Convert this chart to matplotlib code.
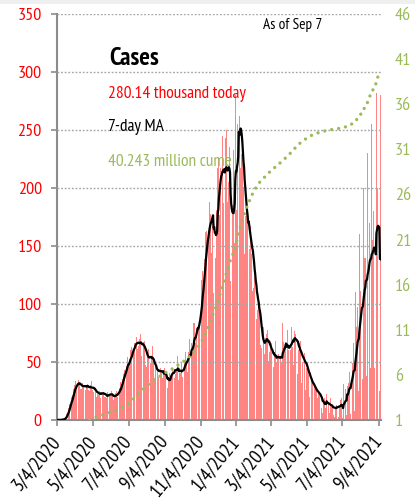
import pandas as pd
import matplotlib
matplotlib.use('Agg')
import matplotlib.pyplot as plt
from matplotlib.patches import Rectangle

plt.rcParams['font.family'] = ['PT Sans Narrow', 'DejaVu Sans']

# daily new cases (thousands), one row per week, Monday first, from 3/2/2020
start_date = '2020-03-02'
daily_cases = [
    0.02, 0.03, 0.03, 0.07, 0.07, 0.1, 0.1,
    0.2, 0.3, 0.4, 0.5, 0.6, 0.7, 0.9,
    1.3, 1.8, 2.7, 4.5, 5.6, 6.9, 9.3,
    10.5, 11.0, 13.5, 17.7, 18.7, 19.5, 19.4,
    21.3, 24.7, 27.0, 29.9, 32.1, 33.3, 25.3,
    30.5, 31.2, 32.4, 34.4, 33.9, 29.9, 27.4,
    26.6, 26.8, 29.9, 31.8, 32.1, 29.6, 26.9,
    28.1, 25.9, 28.9, 29.4, 35.0, 31.0, 26.0,
    23.0, 24.8, 28.6, 30.0, 33.9, 29.2, 25.5,
    23.3, 23.8, 24.5, 29.6, 27.6, 25.4, 20.2,
    18.5, 22.1, 21.2, 27.0, 25.3, 24.5, 18.9,
    22.0, 20.5, 22.8, 27.5, 24.4, 21.7, 19.6,
    19.4, 18.8, 19.3, 22.6, 24.4, 24.3, 20.1,
    22.2, 20.3, 20.6, 21.9, 25.0, 23.2, 17.9,
    17.3, 18.7, 20.9, 23.3, 25.0, 25.2, 19.8,
    20.1, 23.7, 26.0, 27.8, 32.0, 32.4, 26.9,
    31.0, 35.6, 38.8, 40.0, 45.3, 42.8, 39.8,
    41.6, 46.4, 51.6, 54.6, 56.0, 45.3, 48.5,
    49.0, 60.2, 58.1, 63.2, 65.6, 61.1, 59.6,
    58.5, 66.1, 67.6, 75.2, 71.6, 63.6, 60.8,
    61.9, 63.5, 69.6, 72.4, 74.5, 65.5, 55.4,
    56.0, 65.2, 67.3, 67.0, 68.4, 57.9, 47.0,
    45.7, 54.3, 53.9, 59.0, 61.0, 56.6, 46.5,
    49.0, 54.7, 53.1, 52.0, 63.8, 50.5, 40.6,
    36.1, 44.5, 46.6, 44.4, 49.2, 43.1, 36.4,
    36.8, 39.5, 45.3, 45.2, 48.0, 43.1, 35.1,
    36.6, 41.7, 30.9, 44.5, 50.9, 41.3, 30.7,
    24.3, 27.3, 33.8, 36.4, 47.6, 40.7, 34.4,
    36.8, 39.1, 38.4, 44.2, 49.6, 41.7, 36.4,
    51.0, 39.4, 39.2, 43.8, 55.0, 46.3, 34.3,
    36.4, 40.6, 40.8, 44.9, 49.3, 49.0, 37.1,
    38.4, 42.5, 50.8, 56.5, 58.3, 55.3, 47.0,
    41.4, 52.2, 58.6, 64.6, 69.8, 55.7, 48.3,
    66.1, 62.3, 62.6, 74.4, 83.8, 83.7, 60.8,
    66.8, 74.7, 79.2, 90.3, 99.3, 81.2, 74.4,
    84.7, 92.0, 104.0, 121.1, 127.5, 128.8, 105.5,
    119.0, 139.0, 144.0, 161.8, 177.2, 163.0, 135.1,
    159.0, 160.8, 170.1, 187.8, 196.0, 177.3, 144.1,
    173.1, 174.2, 182.6, 109.4, 203.6, 144.7, 139.8,
    161.5, 180.7, 200.8, 217.5, 225.5, 213.6, 176.5,
    196.0, 217.0, 224.8, 226.4, 245.0, 215.0, 187.0,
    196.7, 199.0, 243.0, 235.0, 249.7, 194.9, 187.9,
    205.0, 210.0, 235.0, 210.0, 120.0, 135.0, 160.0,
    185.0, 205.0, 233.0, 236.0, 153.0, 280.0, 210.0,
    181, 235, 255, 277, 300, 262, 213,
    217, 224, 229, 235, 241, 201, 177,
    143, 176, 184, 193, 191, 172, 132,
    150, 147, 154, 167, 166, 143, 111,
    134, 114, 121, 123, 134, 103, 87,
    91, 95, 95, 104, 100, 86, 65,
    55, 62, 69, 70, 80, 73, 57,
    56, 71, 74, 77, 78, 64, 51,
    59, 56, 67, 67, 66, 59, 42,
    46, 56, 57, 62, 68, 50, 36,
    53, 54, 57, 60, 65, 55, 36,
    50, 53, 84, 67, 77, 63, 43,
    67, 60, 65, 78, 70, 60, 35,
    77, 60, 73, 80, 82, 63, 47,
    70, 77, 75, 74, 80, 60, 40,
    67, 60, 63, 66, 68, 52, 32,
    56, 50, 56, 59, 58, 44, 26,
    50, 45, 44, 47, 45, 32, 20,
    37, 34, 36, 37, 35, 25, 15,
    30, 27, 28, 30, 28, 19, 12,
    25, 22, 24, 26, 22, 10, 6,
    6, 21, 18, 19, 17, 10, 6,
    22, 14, 16, 15, 17, 6, 4,
    19, 13, 14, 12, 10, 4, 3,
    19, 11, 13, 13, 15, 4, 3,
    22, 12, 14, 17, 19, 3, 2,
    5, 31, 22, 23, 27, 6, 4,
    41, 29, 32, 37, 41, 8, 5,
    65, 45, 49, 56, 66, 12, 8,
    110, 73, 80, 90, 97, 25, 15,
    160, 105, 111, 125, 130, 35, 20,
    200, 135, 140, 140, 170, 38, 25,
    230, 150, 160, 170, 190, 45, 30,
    255, 155, 170, 180, 205, 45, 30,
    215, 282, 190, 200, 210, 40, 25,
    25, 280.14,
]

tick_dates = ['2020-03-04', '2020-05-04', '2020-07-04', '2020-09-04', '2020-11-04',
              '2021-01-04', '2021-03-04', '2021-05-04', '2021-07-04', '2021-09-04']
tick_labels = ['3/4/2020', '5/4/2020', '7/4/2020', '9/4/2020', '11/4/2020',
               '1/4/2021', '3/4/2021', '5/4/2021', '7/4/2021', '9/4/2021']
left_ticks = [0, 50, 100, 150, 200, 250, 300, 350]
right_ticks = [1, 6, 11, 16, 21, 26, 31, 36, 41, 46]

dates = pd.date_range(start_date, periods=len(daily_cases), freq='D')
cases = pd.Series(daily_cases, index=dates)
ma7 = cases.rolling(7, min_periods=1).mean()
cume = cases.cumsum() / 1000.0  # millions

red = '#ff0000'
green = '#9bbb59'
axis_gray = '#8c8c8c'

fig = plt.figure(figsize=(4.15, 5.04), dpi=100)
fig.add_artist(Rectangle((0, 1 - 4 / 504), 1, 4 / 504, transform=fig.transFigure,
                         facecolor='#efefef', edgecolor='none'))

ax = fig.add_axes([57 / 415, 84 / 504, 324 / 415, 406 / 504])
ax.bar(dates, cases.values, width=0.85, color='#ff8585', linewidth=0, zorder=1)
ax.plot(dates, ma7.values, color='black', lw=1.6, zorder=3)

ax.set_xlim(pd.Timestamp('2020-03-03 12:00'), pd.Timestamp('2021-09-07 20:00'))
ax.set_ylim(0, 350)
ax.set_yticks(left_ticks)
ax.set_axisbelow(False)
ax.yaxis.grid(True, color='#a6a6a6', linestyle=(0, (1.3, 1.3)), lw=1.0)
ax.tick_params(axis='y', colors=axis_gray, labelcolor=red, labelsize=13,
               length=4, width=1.2, pad=7)
ax.set_xticks(pd.to_datetime(tick_dates))
ax.set_xticklabels(tick_labels, rotation=50, ha='right', va='center',
                   rotation_mode='anchor')
ax.tick_params(axis='x', colors=axis_gray, labelcolor='black', labelsize=14,
               length=4, width=1.2, pad=9)
for side in ['top', 'right']:
    ax.spines[side].set_visible(False)
for side in ['left', 'bottom']:
    ax.spines[side].set_color(axis_gray)
    ax.spines[side].set_linewidth(1.5)

ax2 = ax.twinx()
ax2.plot(dates, cume.values, color=green, lw=2.4, linestyle=(0, (0.01, 2.1)),
         dash_capstyle='round', zorder=4)
ax2.set_ylim(1, 46)
ax2.set_yticks(right_ticks)
ax2.tick_params(axis='y', length=0, labelcolor=green, labelsize=13, pad=10)
for side in ax2.spines:
    ax2.spines[side].set_visible(False)

fig.text(263 / 415, 1 - 29 / 504, 'As of Sep 7', fontsize=11, color='black')
fig.text(109 / 415, 1 - 65 / 504, 'Cases', fontsize=18, fontweight='bold', color='black')
fig.text(108 / 415, 1 - 98 / 504, '280.14 thousand today', fontsize=12.5, color=red)
fig.text(108 / 415, 1 - 131 / 504, '7-day MA', fontsize=12.5, color='black')
fig.text(108 / 415, 1 - 166 / 504, '40.243 million cume', fontsize=12.5, color=green)

fig.savefig('out.png', dpi=100)
